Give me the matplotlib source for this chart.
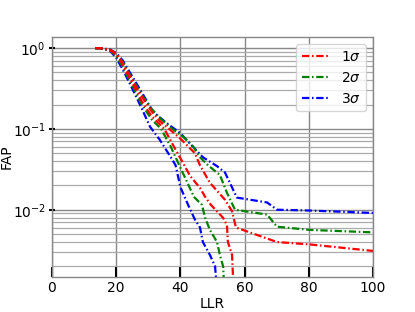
import numpy as np
import matplotlib
matplotlib.use("Agg")
import matplotlib.pyplot as plt

# ---- data (LLR, log10 FAP) ----
b_lo_x = [13.5, 15, 18, 20, 22, 25, 28, 30.5, 33.5, 37, 38.5, 40, 42.4, 44.5, 46.1, 47, 49.2, 50.8, 51.1]
b_lo_ly = [0, 0, -0.03, -0.12, -0.26, -0.5, -0.75, -0.97, -1.13, -1.35, -1.45, -1.72, -1.94, -2.12, -2.22, -2.40, -2.56, -2.70, -2.85]

g_lo_x = [13.5, 15, 18, 20, 22, 25, 28, 31, 34, 37, 39.3, 42, 44.2, 46.7, 47.7, 49.2, 51.4, 52.3, 53.3, 53.5]
g_lo_ly = [0, 0, -0.025, -0.1, -0.23, -0.46, -0.7, -0.88, -1.0, -1.22, -1.42, -1.65, -1.84, -1.94, -2.10, -2.25, -2.40, -2.56, -2.70, -2.85]

r_lo_x = [13.5, 15, 18, 20, 22, 25, 28, 31, 35, 38, 40.8, 43, 46.1, 47.7, 49.5, 53.3, 54.5, 54.8, 56.1, 56.4]
r_lo_ly = [0, 0, -0.02, -0.08, -0.2, -0.43, -0.66, -0.84, -1.0, -1.22, -1.42, -1.58, -1.73, -1.84, -1.94, -2.10, -2.19, -2.40, -2.56, -2.85]

r_hi_x = [13.5, 15, 18, 20, 22, 25, 28, 31, 33.5, 36.5, 40, 44.5, 46.1, 49.2, 53.9, 56.1, 57.3, 70.1, 80.4, 100]
r_hi_ly = [0, 0, -0.02, -0.07, -0.18, -0.4, -0.6, -0.78, -0.9, -1.0, -1.12, -1.3, -1.45, -1.667, -1.877, -2.02, -2.22, -2.40, -2.43, -2.51]

g_hi_x = [13.5, 15, 18, 20, 22, 25, 28, 31, 34, 37.5, 41, 44, 46.1, 48.6, 52.3, 54.5, 57.0, 67, 70.1, 80.4, 100]
g_hi_ly = [0, 0, -0.02, -0.07, -0.17, -0.38, -0.58, -0.75, -0.88, -1.0, -1.1, -1.22, -1.35, -1.45, -1.57, -1.79, -2.0, -2.06, -2.21, -2.25, -2.28]

b_hi_x = [13.5, 15, 18, 20, 22, 25, 28, 31.5, 35.8, 39.9, 43.9, 47, 51.4, 53.9, 56.4, 57.6, 67, 70.1, 80.4, 100]
b_hi_ly = [0, 0, -0.015, -0.06, -0.15, -0.35, -0.55, -0.79, -0.93, -1.05, -1.22, -1.35, -1.46, -1.54, -1.75, -1.85, -1.91, -2.0, -2.01, -2.04]

labels = [r"$1\sigma$", r"$2\sigma$", r"$3\sigma$"]
colors = ["red", "green", "blue"]

plt.rcParams["font.family"] = ["DejaVu Sans"]
fig = plt.figure(figsize=(4.15, 3.12), dpi=100)
ax = fig.add_axes([0.1253, 0.1122, 0.7735, 0.768])

ls = (0, (3.3, 1.2, 0.7, 1.2))
curves = {
    "blue": [(b_lo_x, b_lo_ly), (b_hi_x, b_hi_ly)],
    "green": [(g_lo_x, g_lo_ly), (g_hi_x, g_hi_ly)],
    "red": [(r_lo_x, r_lo_ly), (r_hi_x, r_hi_ly)],
}
handles = {}
for c in ["blue", "green", "red"]:
    for x, ly in curves[c]:
        h, = ax.plot(x, 10 ** np.array(ly), color=c, lw=1.6, linestyle=ls)
    handles[c] = h

ax.set_yscale("log")
ax.set_xlim(0, 100)
ax.set_ylim(1.47e-3, 1.36)
ax.set_xticks([0, 20, 40, 60, 80, 100])
ax.grid(True, which="major", color="#888888", lw=1.0)
ax.grid(True, which="minor", axis="y", color="#aaaaaa", lw=0.9)
ax.set_axisbelow(True)
for s in ax.spines.values():
    s.set_color("#888888")
    s.set_linewidth(1.0)
ax.tick_params(axis="x", which="major", direction="in", length=7, width=1.5, labelsize=10, color="black", pad=3)
ax.tick_params(axis="y", which="major", direction="inout", length=5, width=1.5, labelsize=10, color="black", pad=2)
ax.tick_params(axis="y", which="minor", length=0)
ax.set_xlabel("LLR", fontsize=10, labelpad=1)
ax.set_ylabel("FAP", fontsize=10)
ax.yaxis.set_label_coords(-0.118, 0.5)

ax.legend([handles["red"], handles["green"], handles["blue"]], labels,
          loc="upper right", fontsize=10)

fig.savefig("out.png", dpi=100)
